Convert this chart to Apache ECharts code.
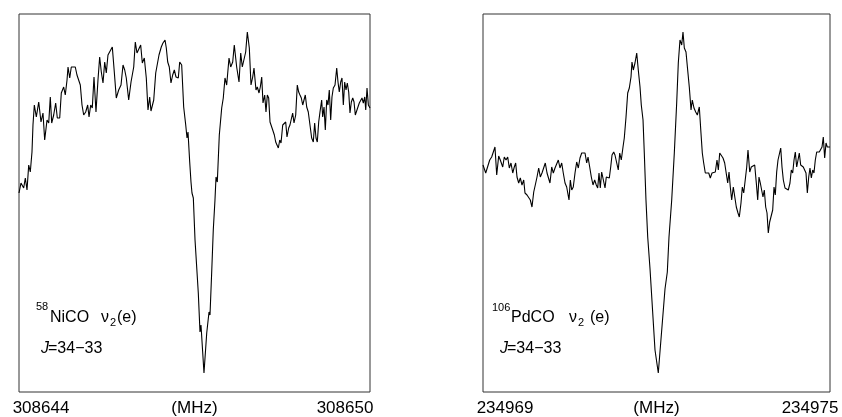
<!DOCTYPE html>
<html>
<head>
<meta charset="utf-8">
<script src="https://cdn.jsdelivr.net/npm/echarts@6/dist/echarts.min.js"></script>
<style>
  html, body { margin: 0; padding: 0; background: #fff; }
  #main { width: 842px; height: 417px; }
</style>
</head>
<body>
<div id="main"></div>
<script>
// 58NiCO nu2(e) J=34-33, offset from 308644 MHz in kHz, intensity in arbitrary units
var nicoBase = 308644;
var nicoOffset = [0,34,80,108,137,166,193,222,239,262,296,337,376,410,439,479,508,535,559,593,627,655,696,723,764,791,821,838,867,894,923,962,991,1021,1048,1077,1106,1140,1174,1197,1226,1253,1282,1316,1350,1379,1407,1436,1465,1492,1521,1550,1595,1629,1663,1704,1744,1778,1807,1834,1875,1915,1961,1988,2017,2051,2080,2108,2142,2176,2205,2234,2256,2303,2337,2359,2393,2432,2461,2496,2518,2542,2569,2598,2627,2655,2684,2723,2747,2781,2815,2850,2872,2889,2918,2940,2957,2980,3009,3065,3094,3111,3162,3209,3248,3265,3294,3321,3350,3368,3390,3424,3465,3492,3521,3550,3590,3619,3653,3680,3721,3761,3790,3817,3846,3875,3903,3937,3966,3995,4017,4051,4074,4103,4125,4149,4171,4200,4222,4245,4268,4291,4313,4337,4365,4388,4411,4433,4457,4479,4508,4535,4559,4581,4610,4632,4661,4678,4701,4730,4757,4781,4803,4826,4850,4872,4894,4918,4945,4974,5003,5031,5054,5077,5099,5123,5145,5174,5191,5214,5236,5260,5282,5304,5328,5350,5373,5402,5431,5453,5475,5499,5521,5544,5567,5590,5612,5636,5658,5681,5705,5727,5749,5773,5794,5817,5841,5863,5886,5910,5927,5949,5972,6000];
var nicoSignal = [199,209,204,214,202,227,220,240,267,287,275,290,270,279,252,272,269,295,269,277,289,274,274,299,305,297,312,325,314,325,327,325,317,319,307,287,277,280,287,275,287,284,315,280,312,335,320,309,330,319,337,335,345,320,294,302,307,327,322,314,292,310,325,350,339,340,347,329,334,314,282,295,281,292,319,320,337,345,349,352,344,330,325,309,317,322,315,314,330,327,285,267,254,260,230,210,199,194,152,99,60,67,19,59,80,77,120,162,192,215,210,257,284,294,314,307,334,325,330,347,325,310,339,325,324,340,360,344,307,315,324,302,305,299,305,315,289,297,280,297,294,270,272,262,257,250,252,244,252,249,267,267,270,255,264,267,269,279,269,277,307,300,297,294,287,292,297,285,280,279,254,250,269,254,250,270,280,292,275,285,262,292,287,302,272,295,304,307,324,310,300,310,314,287,310,302,309,300,279,290,294,290,277,277,285,289,287,294,289,295,282,304,287,284];

// 106PdCO nu2(e) J=34-33, offset from 234969 MHz in kHz
var pdcoBase = 234969;
var pdcoOffset = [0,47,81,116,150,173,207,237,271,299,341,368,398,427,455,484,514,541,565,588,617,645,674,704,726,761,790,818,847,877,904,934,963,991,1020,1050,1077,1107,1129,1158,1188,1216,1245,1274,1302,1331,1361,1388,1418,1447,1470,1487,1510,1534,1561,1591,1620,1648,1677,1707,1734,1764,1793,1816,1845,1873,1902,1931,1959,1983,2006,2028,2052,2080,2110,2132,2156,2184,2208,2231,2260,2282,2312,2339,2364,2391,2421,2443,2473,2502,2530,2559,2576,2599,2628,2658,2685,2715,2737,2767,2789,2818,2848,2888,2974,3031,3147,3187,3216,3263,3308,3349,3377,3406,3436,3458,3481,3510,3539,3567,3597,3619,3648,3678,3706,3740,3769,3792,3816,3844,3873,3903,3930,3960,3989,4017,4046,4069,4093,4121,4150,4179,4207,4231,4254,4276,4300,4328,4357,4380,4409,4432,4461,4484,4508,4530,4560,4582,4612,4639,4669,4698,4726,4750,4772,4795,4819,4841,4864,4888,4911,4933,4957,4985,5009,5032,5054,5078,5101,5123,5148,5170,5193,5222,5251,5279,5308,5331,5355,5378,5400,5424,5447,5469,5493,5516,5538,5562,5585,5608,5632,5654,5677,5701,5723,5746,5770,5792,5815,5839,5862,5884,5908,5931,5953,5978,6000];
var pdcoSignal = [227,219,220,232,235,234,245,217,236,232,225,235,232,235,224,229,219,225,229,215,209,214,207,212,199,197,197,192,185,200,207,215,224,215,219,220,229,219,220,209,225,219,224,225,232,224,229,219,209,205,207,192,212,202,205,219,230,224,234,239,237,239,229,235,225,215,207,212,207,204,219,204,220,222,204,215,217,214,225,237,240,237,239,222,239,232,245,254,275,299,304,315,330,322,329,339,322,305,287,272,239,192,155,123,42,19,103,120,155,192,239,289,329,352,347,360,344,340,322,305,282,292,284,280,277,285,259,239,229,219,217,219,214,219,217,220,232,222,239,237,234,229,229,209,220,205,192,205,207,185,179,175,189,205,199,210,225,242,220,225,224,227,209,192,215,209,207,195,202,185,179,159,170,172,182,205,197,220,232,232,244,225,212,204,204,202,209,222,219,232,240,225,232,239,227,227,225,224,219,199,215,224,214,222,219,232,240,242,240,239,245,255,234,249,245,247,245];

var freqLabels = [
  ['308644', '308650'],
  ['234969', '234975']
];
var axisName = '(MHz)';

function toPairs(base, offs, sig) {
  var out = [];
  for (var i = 0; i < offs.length; i++) {
    out.push([base + offs[i] / 1000, sig[i]]);
  }
  return out;
}

var myChart = echarts.init(document.getElementById('main'));
var FONT = 'Liberation Sans, Arial, sans-serif';

// end labels sit a little past the frame, like the original figure
function xAxisFor(idx, base, padR) {
  return {
    gridIndex: idx,
    type: 'value',
    min: base,
    max: base + 6,
    interval: 6,
    axisLine: { show: false },
    axisTick: { show: false },
    splitLine: { show: false },
    axisLabel: {
      margin: 8,
      color: '#000',
      fontFamily: FONT,
      fontSize: 17,
      alignMinLabel: 'center',
      alignMaxLabel: 'center',
      formatter: function (v) {
        return v === base ? '{l|' + freqLabels[idx][0] + '}' : '{r|' + freqLabels[idx][1] + '}';
      },
      rich: {
        l: { fontFamily: FONT, fontSize: 17, color: '#000', padding: [0, 0, 0, 44] },
        r: { fontFamily: FONT, fontSize: 17, color: '#000', padding: [0, padR, 0, 0] }
      }
    },
    name: axisName,
    nameLocation: 'middle',
    nameGap: 8,
    nameMoveOverlap: false,
    nameTextStyle: { color: '#000', fontFamily: FONT, fontSize: 17, verticalAlign: 'top' }
  };
}

function txt(x, y, s, size, italic) {
  return {
    type: 'text', left: x, top: y - size / 2,
    style: { text: s, fill: '#000', font: (italic ? 'italic ' : '') + size + 'px ' + FONT }
  };
}

var option = {
  animation: false,
  backgroundColor: '#fff',
  grid: [
    { left: 19, top: 14, width: 351, height: 378, show: true, borderColor: '#333', borderWidth: 1, outerBoundsMode: 'none', containLabel: false },
    { left: 483, top: 14, width: 347, height: 378, show: true, borderColor: '#333', borderWidth: 1, outerBoundsMode: 'none', containLabel: false }
  ],
  xAxis: [xAxisFor(0, nicoBase, 50), xAxisFor(1, pdcoBase, 40)],
  yAxis: [
    { gridIndex: 0, type: 'value', min: 0, max: 378, show: false },
    { gridIndex: 1, type: 'value', min: 0, max: 378, show: false }
  ],
  series: [
    {
      name: 'NiCO', type: 'line', xAxisIndex: 0, yAxisIndex: 0,
      showSymbol: false, symbol: 'none',
      lineStyle: { color: '#000', width: 1.1 },
      data: toPairs(nicoBase, nicoOffset, nicoSignal)
    },
    {
      name: 'PdCO', type: 'line', xAxisIndex: 1, yAxisIndex: 1,
      showSymbol: false, symbol: 'none',
      lineStyle: { color: '#000', width: 1.1 },
      data: toPairs(pdcoBase, pdcoOffset, pdcoSignal)
    }
  ],
  graphic: [
    // left annotation
    txt(36, 307, '58', 11),
    txt(50, 318, 'NiCO', 16),
    txt(101, 318, 'ν', 16),
    txt(110, 323, '2', 11),
    txt(117, 318, '(e)', 16),
    txt(41, 349, 'J', 16, true),
    txt(48, 349, '=34−33', 16),
    // right annotation
    txt(492, 308, '106', 11),
    txt(511, 318, 'PdCO', 16),
    txt(569, 318, 'ν', 16),
    txt(578, 323, '2', 11),
    txt(590, 318, '(e)', 16),
    txt(500, 349, 'J', 16, true),
    txt(507, 349, '=34−33', 16)
  ]
};
myChart.setOption(option);
</script>
</body>
</html>
